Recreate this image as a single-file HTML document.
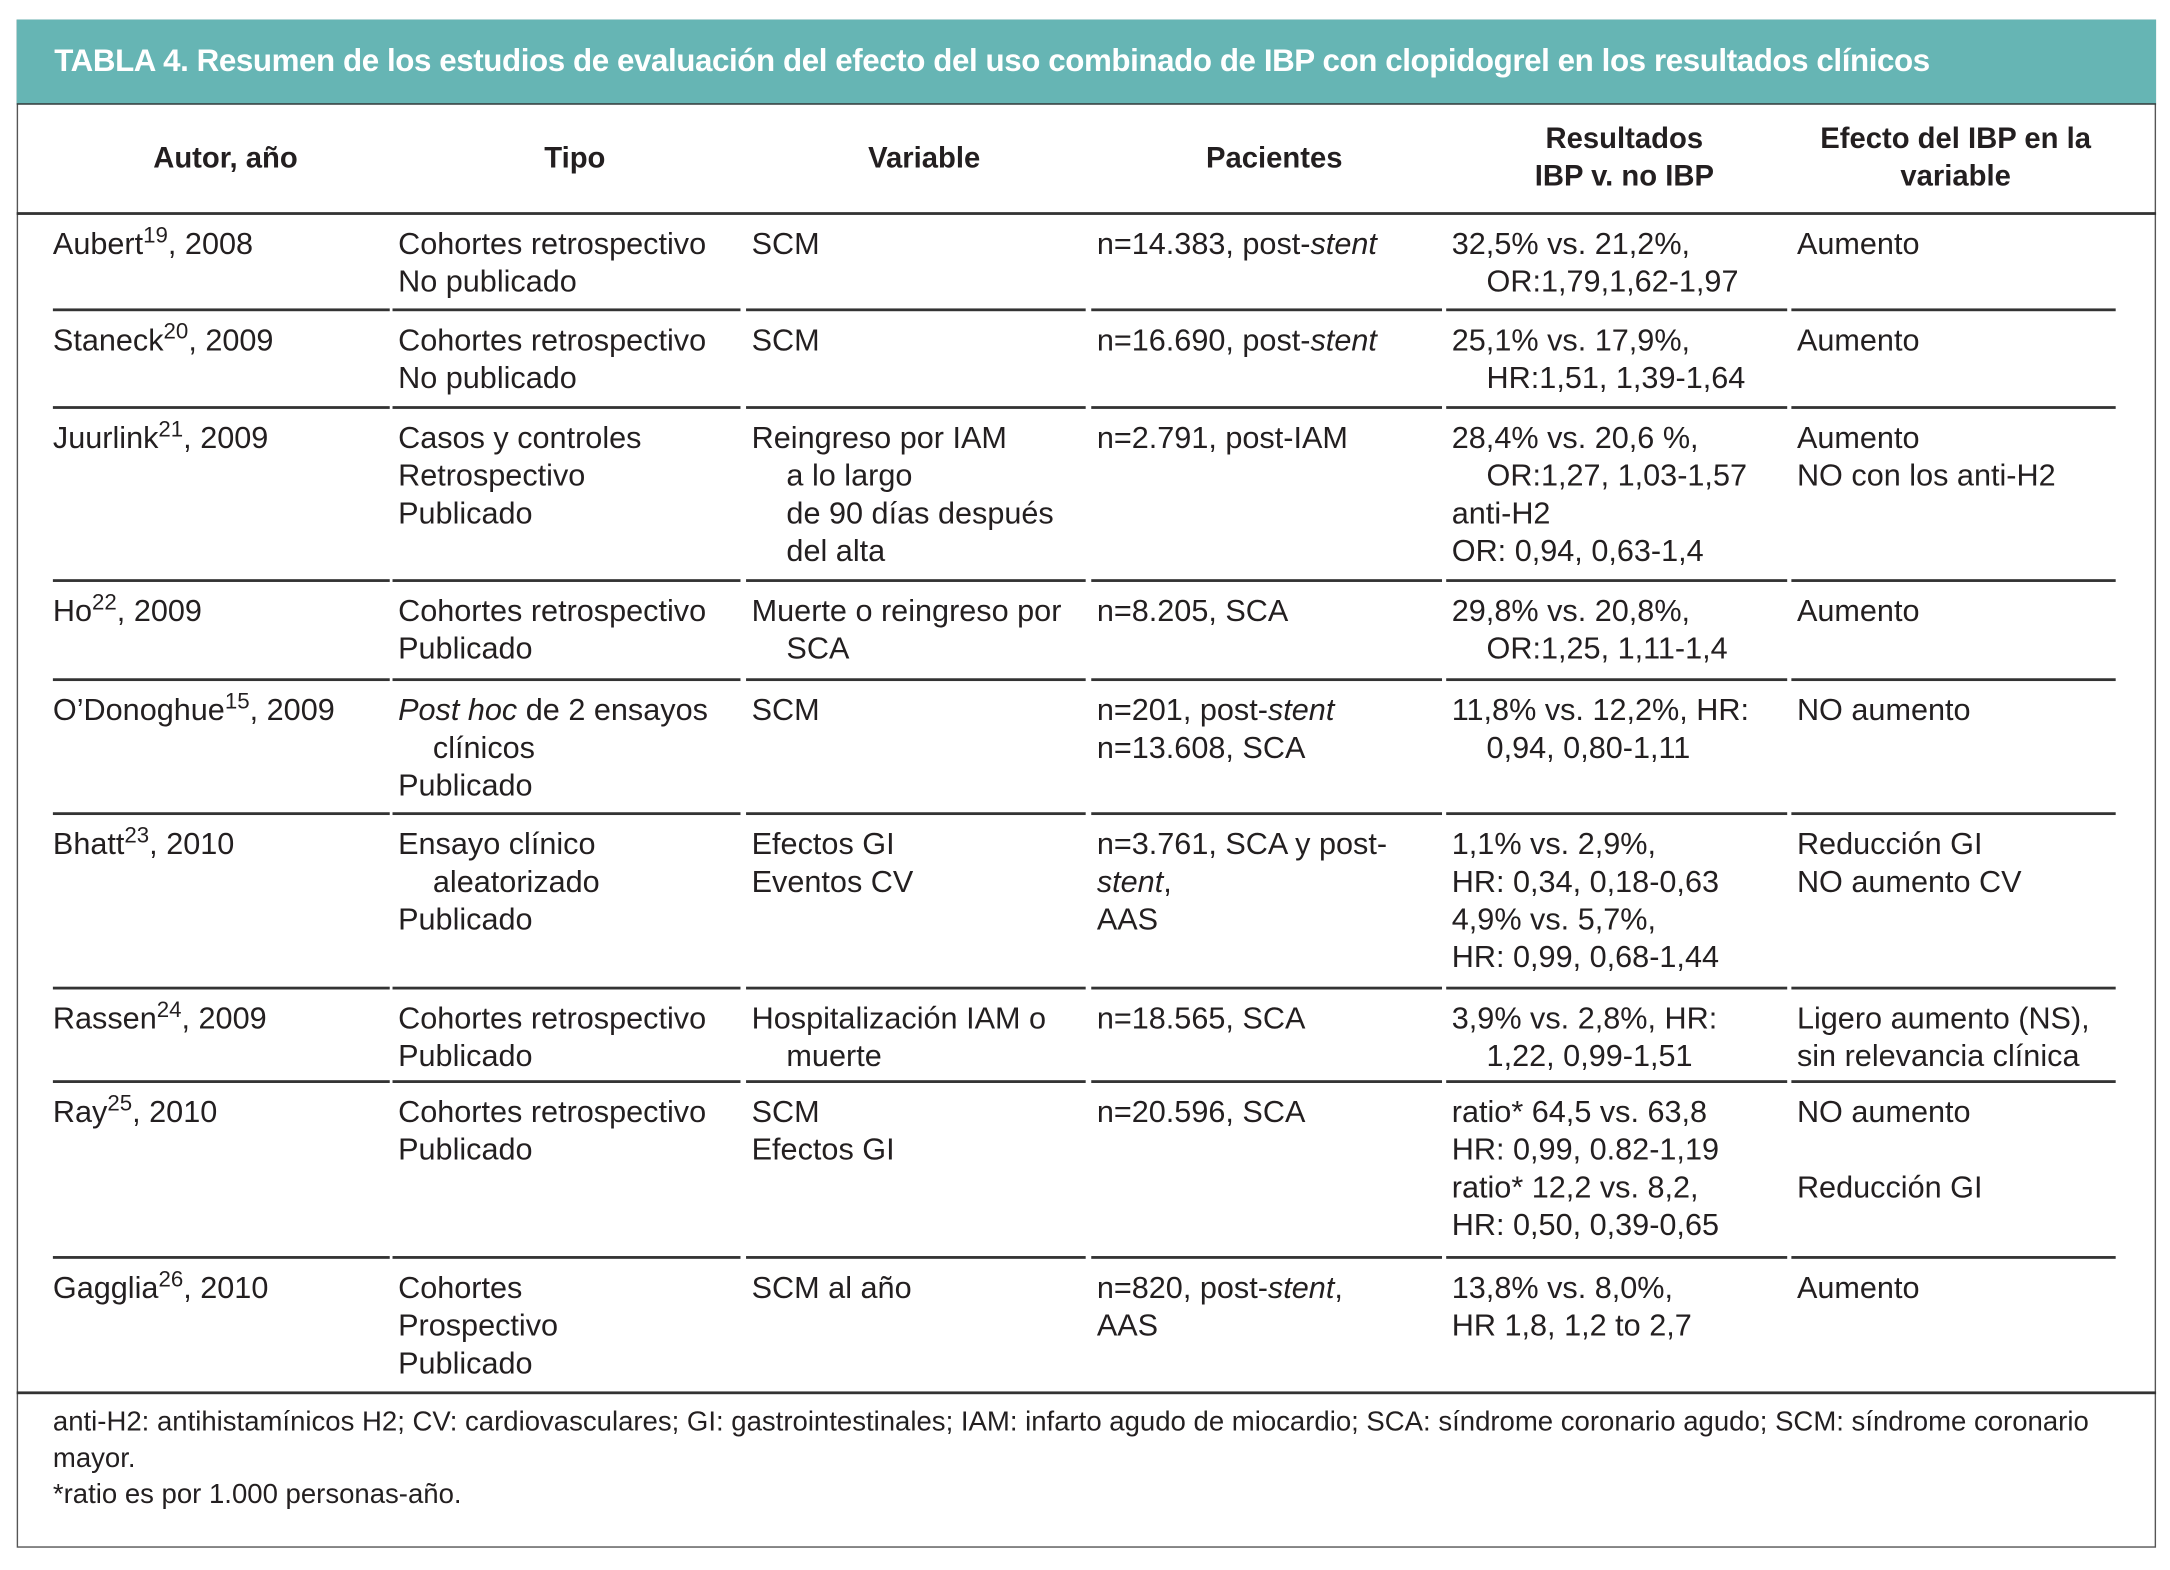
<!DOCTYPE html>
<html><head><meta charset="utf-8"><style>
html,body{margin:0;padding:0;background:#fff;}
body{width:2170px;height:1570px;overflow:hidden;position:relative;}
#wrap{position:absolute;left:0;top:0;width:1559px;height:1125px;transform-origin:0 0;transform:scale(1.3919,1.3956);font-family:"Liberation Sans",sans-serif;color:#231f20;}
#box{position:absolute;left:12px;top:14px;width:1535px;height:1093px;border:1px solid #555;}
#head{position:absolute;left:12px;top:14px;width:1537px;height:60px;background:#66b5b4;border-bottom:1.5px solid #333;}
#title{position:absolute;left:27px;top:17px;color:#fff;font-weight:bold;font-size:22.5px;white-space:nowrap;letter-spacing:-0.3px;}
.h{position:absolute;font-weight:bold;font-size:21px;text-align:center;line-height:27px;}
.c{position:absolute;font-size:22px;line-height:27px;white-space:nowrap;}
.c div.i{padding-left:25px;}
sup{font-size:16px;line-height:0;}
.sep{position:absolute;height:1.5px;background:#333;}
.full{position:absolute;left:12px;width:1537px;height:1.5px;background:#333;}
#foot{position:absolute;left:38px;top:1006px;font-size:19.8px;line-height:26px;width:1490px;}
</style></head><body>
<div id="wrap">
<div id="box"></div>
<div id="head"><div id="title">TABLA 4. Resumen de los estudios de evaluación del efecto del uso combinado de IBP con clopidogrel en los resultados clínicos</div></div>
<div class="h" style="left:38px;top:100px;width:248px">Autor, año</div>
<div class="h" style="left:286px;top:100px;width:254px">Tipo</div>
<div class="h" style="left:540px;top:100px;width:248px">Variable</div>
<div class="h" style="left:788px;top:100px;width:255px">Pacientes</div>
<div class="h" style="left:1043px;top:86px;width:248px">Resultados<br>IBP v. no IBP</div>
<div class="h" style="left:1291px;top:86px;width:228px">Efecto del IBP en la<br>variable</div>
<div class="full" style="top:152px"></div>
<div class="full" style="top:997px"></div>
<div id="rows"></div>
<div id="foot">anti-H2: antihistamínicos H2; CV: cardiovasculares; GI: gastrointestinales; IAM: infarto agudo de miocardio; SCA: síndrome coronario agudo; SCM: síndrome coronario mayor.<br>*ratio es por 1.000 personas-año.</div>
</div>
<script>
const rowTops=[153,222,292,416,487,583,708,775,901];
const sepYs=[222,292,416,487,583,708,775,901];
const colX=[38,286,540,788,1043,1291];
const colEnd=[280,532,780,1036,1284,1520];
const rows=[
[["Aubert<sup>19</sup>, 2008"],["Cohortes retrospectivo","No publicado"],["SCM"],["n=14.383, post-<i>stent</i>"],["32,5% vs. 21,2%,","~OR:1,79,1,62-1,97"],["Aumento"]],
[["Staneck<sup>20</sup>, 2009"],["Cohortes retrospectivo","No publicado"],["SCM"],["n=16.690, post-<i>stent</i>"],["25,1% vs. 17,9%,","~HR:1,51, 1,39-1,64"],["Aumento"]],
[["Juurlink<sup>21</sup>, 2009"],["Casos y controles","Retrospectivo","Publicado"],["Reingreso por IAM","~a lo largo","~de 90 días después","~del alta"],["n=2.791, post-IAM"],["28,4% vs. 20,6 %,","~OR:1,27, 1,03-1,57","anti-H2","OR: 0,94, 0,63-1,4"],["Aumento","NO con los anti-H2"]],
[["Ho<sup>22</sup>, 2009"],["Cohortes retrospectivo","Publicado"],["Muerte o reingreso por","~SCA"],["n=8.205, SCA"],["29,8% vs. 20,8%,","~OR:1,25, 1,11-1,4"],["Aumento"]],
[["O’Donoghue<sup>15</sup>, 2009"],["<i>Post hoc</i> de 2 ensayos","~clínicos","Publicado"],["SCM"],["n=201, post-<i>stent</i>","n=13.608, SCA"],["11,8% vs. 12,2%, HR:","~0,94, 0,80-1,11"],["NO aumento"]],
[["Bhatt<sup>23</sup>, 2010"],["Ensayo clínico","~aleatorizado","Publicado"],["Efectos GI","Eventos CV"],["n=3.761, SCA y post-","<i>stent</i>,","AAS"],["1,1% vs. 2,9%,","HR: 0,34, 0,18-0,63","4,9% vs. 5,7%,","HR: 0,99, 0,68-1,44"],["Reducción GI","NO aumento CV"]],
[["Rassen<sup>24</sup>, 2009"],["Cohortes retrospectivo","Publicado"],["Hospitalización IAM o","~muerte"],["n=18.565, SCA"],["3,9% vs. 2,8%, HR:","~1,22, 0,99-1,51"],["Ligero aumento (NS),","sin relevancia clínica"]],
[["Ray<sup>25</sup>, 2010"],["Cohortes retrospectivo","Publicado"],["SCM","Efectos GI"],["n=20.596, SCA"],["ratio* 64,5 vs. 63,8","HR: 0,99, 0.82-1,19","ratio* 12,2 vs. 8,2,","HR: 0,50, 0,39-0,65"],["NO aumento","&nbsp;","Reducción GI"]],
[["Gagglia<sup>26</sup>, 2010"],["Cohortes","Prospectivo","Publicado"],["SCM al año"],["n=820, post-<i>stent</i>,","AAS"],["13,8% vs. 8,0%,","HR 1,8, 1,2 to 2,7"],["Aumento"]]
];
const colNames=['autor','tipo','variable','pacientes','resultados','efecto'];
const root=document.getElementById('rows');
rows.forEach((r,ri)=>{
  r.forEach((lines,ci)=>{
    const d=document.createElement('div');
    d.className='c';
    
    
    d.style.left=colX[ci]+'px';d.style.top=(rowTops[ri]+8)+'px';
    d.innerHTML=lines.map(l=>l.startsWith('~')?'<div class="i">'+l.slice(1)+'</div>':'<div>'+l+'</div>').join('');
    root.appendChild(d);
  });
});
sepYs.forEach((y,yi)=>{
  colX.forEach((x,ci)=>{
    const s=document.createElement('div');
    s.className='sep';
    
    
    s.style.left=(ci===0?x:x-4)+'px';s.style.top=(y-1)+'px';s.style.width=(colEnd[ci]-(ci===0?x:x-4))+'px';
    root.appendChild(s);
  });
});
</script>
</body></html>
